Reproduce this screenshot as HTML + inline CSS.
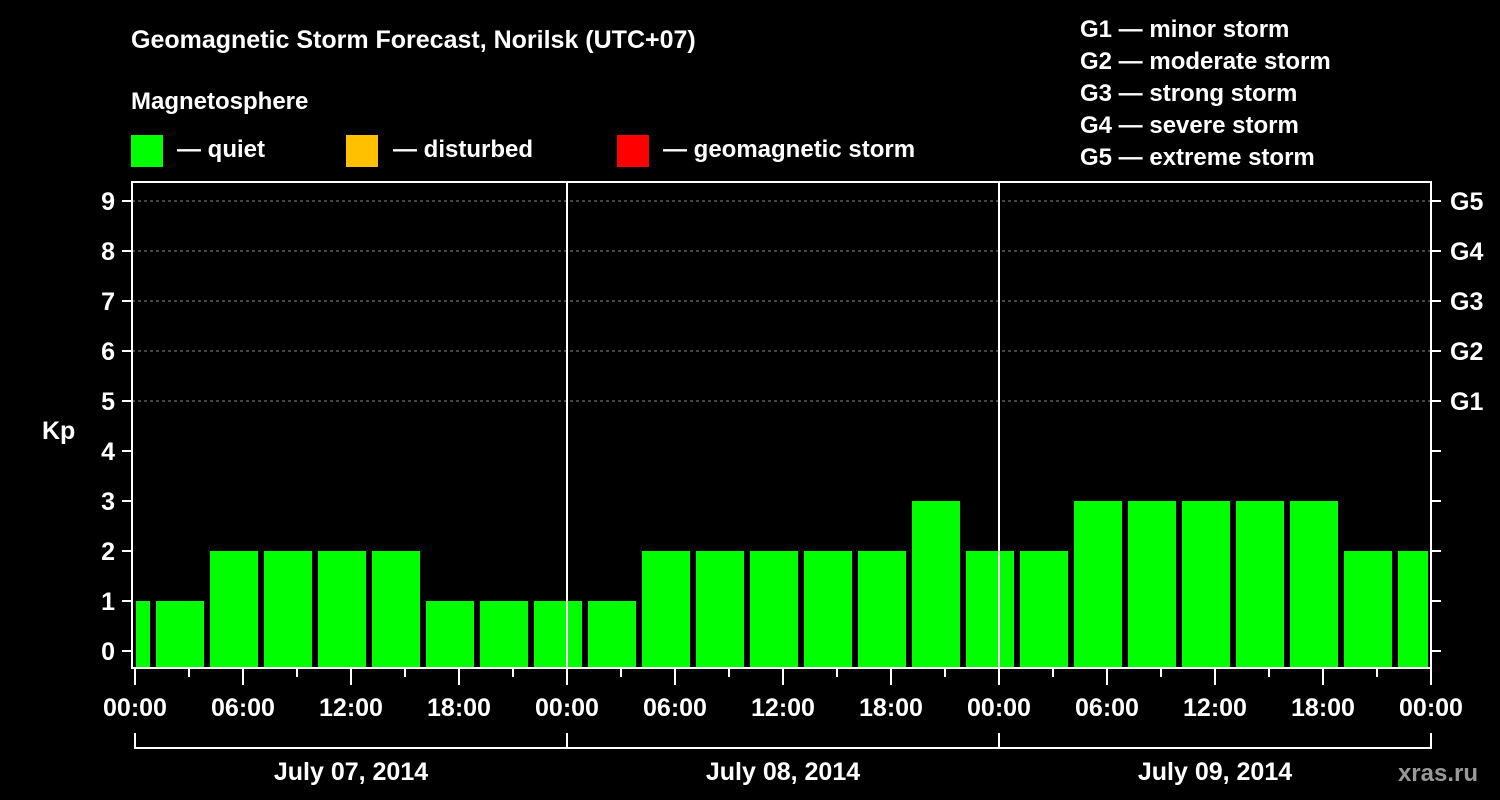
<!DOCTYPE html>
<html><head><meta charset="utf-8"><style>
body{margin:0;background:#000;width:1500px;height:800px;overflow:hidden}
svg{display:block;font-family:"Liberation Sans",Arial,sans-serif;font-weight:bold;fill:#fff}
</style></head><body>
<svg id="c" width="1500" height="800">
<text x="131" y="48" font-size="25">Geomagnetic Storm Forecast, Norilsk (UTC+07)</text>
<text x="131" y="109" font-size="24">Magnetosphere</text>
<rect x="131" y="135" width="32" height="32" fill="#00ff00"/>
<text x="177" y="157" font-size="24">— quiet</text>
<rect x="346" y="135" width="32" height="32" fill="#ffc000"/>
<text x="393" y="157" font-size="24">— disturbed</text>
<rect x="617" y="135" width="32" height="32" fill="#ff0000"/>
<text x="663" y="157" font-size="24">— geomagnetic storm</text>
<g font-size="24">
<text x="1080" y="37">G1 — minor storm</text>
<text x="1080" y="69">G2 — moderate storm</text>
<text x="1080" y="101">G3 — strong storm</text>
<text x="1080" y="133">G4 — severe storm</text>
<text x="1080" y="165">G5 — extreme storm</text>
</g>
<text x="42" y="439" font-size="25">Kp</text>
<text x="1478" y="781" font-size="24" text-anchor="end" fill="#888" style="fill:#999">xras.ru</text>
<g id="plot"></g>
</svg>
<script>
const startHours=[0,1,4,7,10,13,16,19,22,25,28,31,34,37,40,43,46,49,52,55,58,61,64,67,70];
const kpValues=[1,1,2,2,2,2,1,1,1,1,2,2,2,2,2,3,2,2,3,3,3,3,3,2,2];
const yTicks=[0,1,2,3,4,5,6,7,8,9];
const gLabels=["G1","G2","G3","G4","G5"];
const xTickLabels=["00:00","06:00","12:00","18:00","00:00","06:00","12:00","18:00","00:00","06:00","12:00","18:00","00:00"];
const dayLabels=["July 07, 2014","July 08, 2014","July 09, 2014"];
const NS="http://www.w3.org/2000/svg";
const X0=135,PX_H=18,X_END=1431,Y0=651,PX_K=50,TOP=182,BOT=668,LEFT=132;
const xs=h=>X0+h*PX_H, ys=k=>Y0-k*PX_K;
const g=document.getElementById('plot');
function mk(t,a){const e=document.createElementNS(NS,t);for(const k in a)e.setAttribute(k,a[k]);g.appendChild(e);return e;}
// grid
for(let k=5;k<=9;k++){const l=mk('line',{x1:LEFT,x2:X_END,y1:ys(k),y2:ys(k),stroke:'#888','stroke-dasharray':'3,3','stroke-width':1});

}
// bars
startHours.forEach((s,i)=>{const e=i+1<startHours.length?startHours[i+1]:72;
const x1=i===0?xs(s)+1:xs(s)+3,x2=xs(e)-3;const y=ys(kpValues[i]);
const r=mk('rect',{x:x1,y:y,width:x2-x1,height:BOT-y,fill:'#00ff00'});

});
// day separators
[24,48].forEach(h=>{const l=mk('line',{x1:xs(h),x2:xs(h),y1:TOP,y2:BOT,stroke:'#fff','stroke-width':2});

});
// frame
const fr=mk('rect',{x:LEFT,y:TOP,width:X_END-LEFT,height:BOT-TOP,fill:'none',stroke:'#fff','stroke-width':2});


// y ticks
yTicks.forEach(k=>{mk('line',{x1:122,x2:LEFT,y1:ys(k),y2:ys(k),stroke:'#fff','stroke-width':2});
mk('line',{x1:X_END,x2:1441,y1:ys(k),y2:ys(k),stroke:'#fff','stroke-width':2});
const t=mk('text',{x:115,y:ys(k)+9,'font-size':25,'text-anchor':'end'});t.textContent=k;

});
gLabels.forEach((s,i)=>{const t=mk('text',{x:1450,y:ys(5+i)+9,'font-size':25});t.textContent=s;

});
// x ticks
for(let h=0;h<=72;h+=3){const major=h%6===0;mk('line',{x1:xs(h),x2:xs(h),y1:BOT,y2:major?685:677,stroke:'#fff','stroke-width':2});}
xTickLabels.forEach((s,i)=>{const t=mk('text',{x:xs(i*6),y:716,'font-size':25,'text-anchor':'middle'});t.textContent=s;

});
// date bracket
mk('line',{x1:xs(0),x2:xs(72),y1:748,y2:748,stroke:'#fff','stroke-width':2});
for(let d=0;d<=3;d++)mk('line',{x1:xs(d*24),x2:xs(d*24),y1:733,y2:749,stroke:'#fff','stroke-width':2});
dayLabels.forEach((s,i)=>{const t=mk('text',{x:xs(i*24+12),y:780,'font-size':25,'text-anchor':'middle'});t.textContent=s;

});
</script>
</body></html>
